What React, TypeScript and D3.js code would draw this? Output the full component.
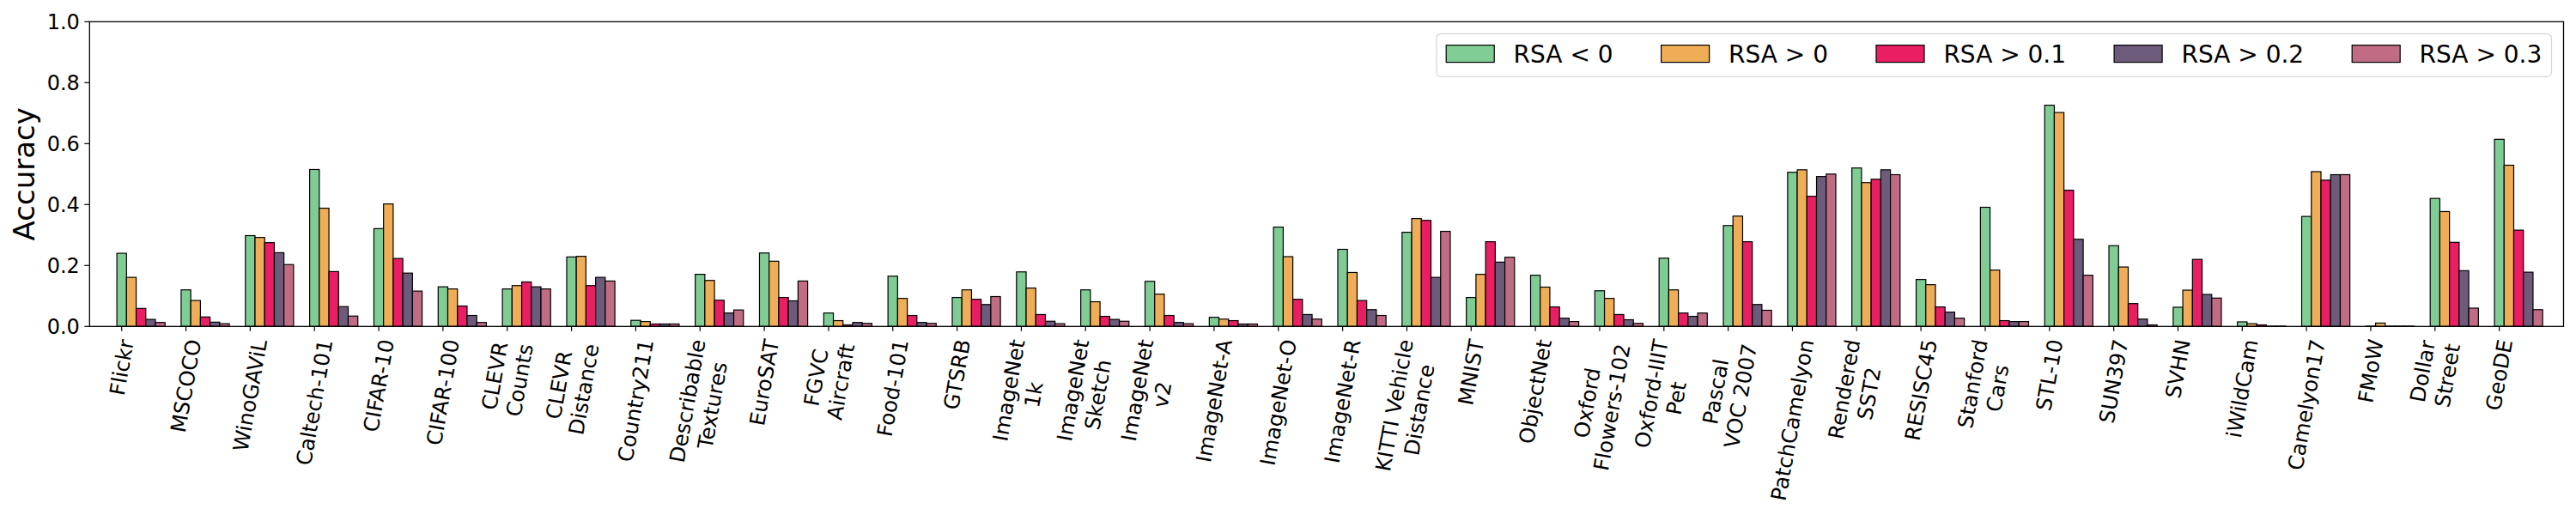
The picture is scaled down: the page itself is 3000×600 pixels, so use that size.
import React, { useEffect, useRef } from 'react';
import * as d3 from 'd3';

const datasets = [
  'Flickr', 'MSCOCO', 'WinoGAViL', 'Caltech-101', 'CIFAR-10', 'CIFAR-100',
  'CLEVR\nCounts', 'CLEVR\nDistance', 'Country211', 'Describable\nTextures',
  'EuroSAT', 'FGVC\nAircraft', 'Food-101', 'GTSRB', 'ImageNet\n1k',
  'ImageNet\nSketch', 'ImageNet\nv2', 'ImageNet-A', 'ImageNet-O', 'ImageNet-R',
  'KITTI Vehicle\nDistance', 'MNIST', 'ObjectNet', 'Oxford\nFlowers-102',
  'Oxford-IIIT\nPet', 'Pascal\nVOC 2007', 'PatchCamelyon', 'Rendered\nSST2',
  'RESISC45', 'Stanford\nCars', 'STL-10', 'SUN397', 'SVHN', 'iWildCam',
  'Camelyon17', 'FMoW', 'Dollar\nStreet', 'GeoDE',
];

const rsaNeg = [
  0.24, 0.12, 0.298, 0.515, 0.321, 0.13, 0.123, 0.228, 0.02, 0.171, 0.241, 0.044,
  0.165, 0.095, 0.179, 0.12, 0.148, 0.03, 0.326, 0.253, 0.309, 0.095, 0.168, 0.117,
  0.224, 0.331, 0.506, 0.52, 0.154, 0.391, 0.726, 0.265, 0.063, 0.015, 0.361, 0.001,
  0.42, 0.614,
];
const rsaPos = [
  0.161, 0.085, 0.292, 0.388, 0.402, 0.123, 0.134, 0.23, 0.016, 0.151, 0.214, 0.019,
  0.092, 0.12, 0.126, 0.081, 0.106, 0.024, 0.229, 0.177, 0.354, 0.171, 0.129, 0.092,
  0.12, 0.362, 0.514, 0.472, 0.137, 0.185, 0.702, 0.195, 0.119, 0.009, 0.508, 0.011,
  0.377, 0.529,
];
const rsa01 = [
  0.059, 0.031, 0.275, 0.18, 0.223, 0.067, 0.146, 0.134, 0.008, 0.086, 0.095, 0.005,
  0.036, 0.089, 0.039, 0.033, 0.036, 0.019, 0.089, 0.085, 0.348, 0.278, 0.064, 0.039,
  0.044, 0.278, 0.427, 0.483, 0.064, 0.019, 0.447, 0.075, 0.22, 0.005, 0.48, 0.001,
  0.276, 0.316,
];
const rsa02 = [
  0.023, 0.014, 0.242, 0.065, 0.175, 0.036, 0.13, 0.161, 0.008, 0.044, 0.084, 0.013,
  0.013, 0.072, 0.017, 0.023, 0.013, 0.008, 0.039, 0.055, 0.161, 0.211, 0.027, 0.022,
  0.033, 0.072, 0.492, 0.514, 0.047, 0.016, 0.286, 0.024, 0.105, 0.001, 0.498, 0.001,
  0.183, 0.178,
];
const rsa03 = [
  0.013, 0.009, 0.203, 0.034, 0.116, 0.013, 0.123, 0.149, 0.008, 0.054, 0.149, 0.01,
  0.01, 0.098, 0.009, 0.017, 0.009, 0.008, 0.024, 0.036, 0.312, 0.227, 0.016, 0.01,
  0.044, 0.053, 0.5, 0.498, 0.027, 0.016, 0.168, 0.005, 0.093, 0.001, 0.498, 0.001,
  0.06, 0.055,
];

const seriesLabels = ['RSA < 0', 'RSA > 0', 'RSA > 0.1', 'RSA > 0.2', 'RSA > 0.3'];
const seriesColors = ['#7fcc95', '#f0ad57', '#e91e63', '#6c5b7b', '#c06c84'];
const yTicks = [0, 0.2, 0.4, 0.6, 0.8, 1.0];

const FONT = '"DejaVu Sans", sans-serif';

const App: React.FC = () => {
  const ref = useRef<SVGSVGElement | null>(null);

  useEffect(() => {
    document.body.style.margin = '0';
    if (!ref.current) return;
    const svg = d3.select(ref.current);
    svg.selectAll('*').remove();

    const width = 3000;
    const height = 600;
    const left = 104.3;
    const right = 2985.5;
    const top = 25.3;
    const bottom = 380.3;
    const barW = 0.15;
    const series = [rsaNeg, rsaPos, rsa01, rsa02, rsa03];

    svg.attr('width', width).attr('height', height);
    svg.append('rect').attr('width', width).attr('height', height).attr('fill', '#fff');

    const x = d3.scaleLinear().domain([-0.5, datasets.length]).range([left, right]);
    const y = d3.scaleLinear().domain([0, 1]).range([bottom, top]);

    // bars
    series.forEach((vals, s) => {
      svg
        .append('g')
        .selectAll('rect')
        .data(vals)
        .enter()
        .append('rect')
        .attr('x', (_d, i) => x(i + s * barW - barW / 2))
        .attr('width', x(barW) - x(0))
        .attr('y', (d) => y(d))
        .attr('height', (d) => y(0) - y(d))
        .attr('fill', seriesColors[s])
        .attr('stroke', '#000')
        .attr('stroke-width', 1.2);
    });

    // y axis ticks + labels
    const yAxis = svg.append('g');
    yTicks.forEach((t) => {
      yAxis
        .append('line')
        .attr('x1', left - 6)
        .attr('x2', left)
        .attr('y1', y(t))
        .attr('y2', y(t))
        .attr('stroke', '#000')
        .attr('stroke-width', 1.2);
      yAxis
        .append('text')
        .attr('x', left - 11.5)
        .attr('y', y(t))
        .attr('dy', '0.36em')
        .attr('text-anchor', 'end')
        .style('font-family', FONT)
        .style('font-size', '24px')
        .text(t.toFixed(1));
    });

    svg
      .append('text')
      .attr('transform', `translate(40,${(top + bottom) / 2}) rotate(-90)`)
      .attr('text-anchor', 'middle')
      .style('font-family', FONT)
      .style('font-size', '34px')
      .text('Accuracy');

    // x ticks + rotated labels
    const fs = 24.5;
    const theta = (80 * Math.PI) / 180;
    const xAxis = svg.append('g');
    datasets.forEach((name, i) => {
      const cx = x(i);
      xAxis
        .append('line')
        .attr('x1', cx)
        .attr('x2', cx)
        .attr('y1', bottom)
        .attr('y2', bottom + 5.5)
        .attr('stroke', '#000')
        .attr('stroke-width', 1.2);

      const lines = name.split('\n');
      const g = xAxis.append('g');
      const txt = g
        .append('text')
        .attr('text-anchor', 'middle')
        .style('font-family', FONT)
        .style('font-size', `${fs}px`);
      const H = (lines.length - 1) * 1.2 * fs + 1.164 * fs;
      lines.forEach((ln, k) => {
        txt
          .append('tspan')
          .attr('x', 0)
          .attr('y', -H / 2 + 0.928 * fs + k * 1.2 * fs)
          .text(ln);
      });
      let W = 0;
      txt.selectAll<SVGTSpanElement, unknown>('tspan').each(function () {
        W = Math.max(W, this.getComputedTextLength());
      });
      const boxH = W * Math.sin(theta) + H * Math.cos(theta);
      const cy = bottom + 13 + boxH / 2;
      g.attr('transform', `translate(${cx},${cy}) rotate(-80)`);
    });

    // frame
    svg
      .append('rect')
      .attr('x', left)
      .attr('y', top)
      .attr('width', right - left)
      .attr('height', bottom - top)
      .attr('fill', 'none')
      .attr('stroke', '#000')
      .attr('stroke-width', 1.3);

    // legend (laid out from the right edge)
    const lfs = 28;
    const handle = 2 * lfs;
    const textPad = 0.8 * lfs;
    const colSpace = 2 * lfs;
    const borderPad = 0.4 * lfs;
    const legend = svg.append('g');
    const frame = legend.append('rect');
    const items = seriesLabels.map((lab, s) => {
      const t = legend
        .append('text')
        .style('font-family', FONT)
        .style('font-size', `${lfs}px`)
        .text(lab);
      const w = (t.node() as SVGTextElement).getComputedTextLength();
      return { t, w, s };
    });
    const frameRight = right - 0.5 * lfs;
    const totalW =
      items.reduce((acc, it) => acc + handle + textPad + it.w, 0) +
      colSpace * (items.length - 1) +
      2 * borderPad;
    const frameLeft = frameRight - totalW;
    const frameTop = top + 0.5 * lfs;
    const frameH = 50;
    const baseline = frameTop + 33.3;
    frame
      .attr('x', frameLeft)
      .attr('y', frameTop)
      .attr('width', totalW)
      .attr('height', frameH)
      .attr('rx', 5)
      .attr('fill', '#fff')
      .attr('fill-opacity', 0.8)
      .attr('stroke', '#d6d6d6')
      .attr('stroke-width', 1.2);
    let cur = frameLeft + borderPad;
    items.forEach((it) => {
      legend
        .append('rect')
        .attr('x', cur)
        .attr('y', baseline - 20)
        .attr('width', handle)
        .attr('height', 20)
        .attr('fill', seriesColors[it.s])
        .attr('stroke', '#000')
        .attr('stroke-width', 1.2);
      it.t.attr('x', cur + handle + textPad).attr('y', baseline);
      cur += handle + textPad + it.w + colSpace;
    });
  }, []);

  return <svg ref={ref} style={{ display: 'block' }}></svg>;
};

export default App;
